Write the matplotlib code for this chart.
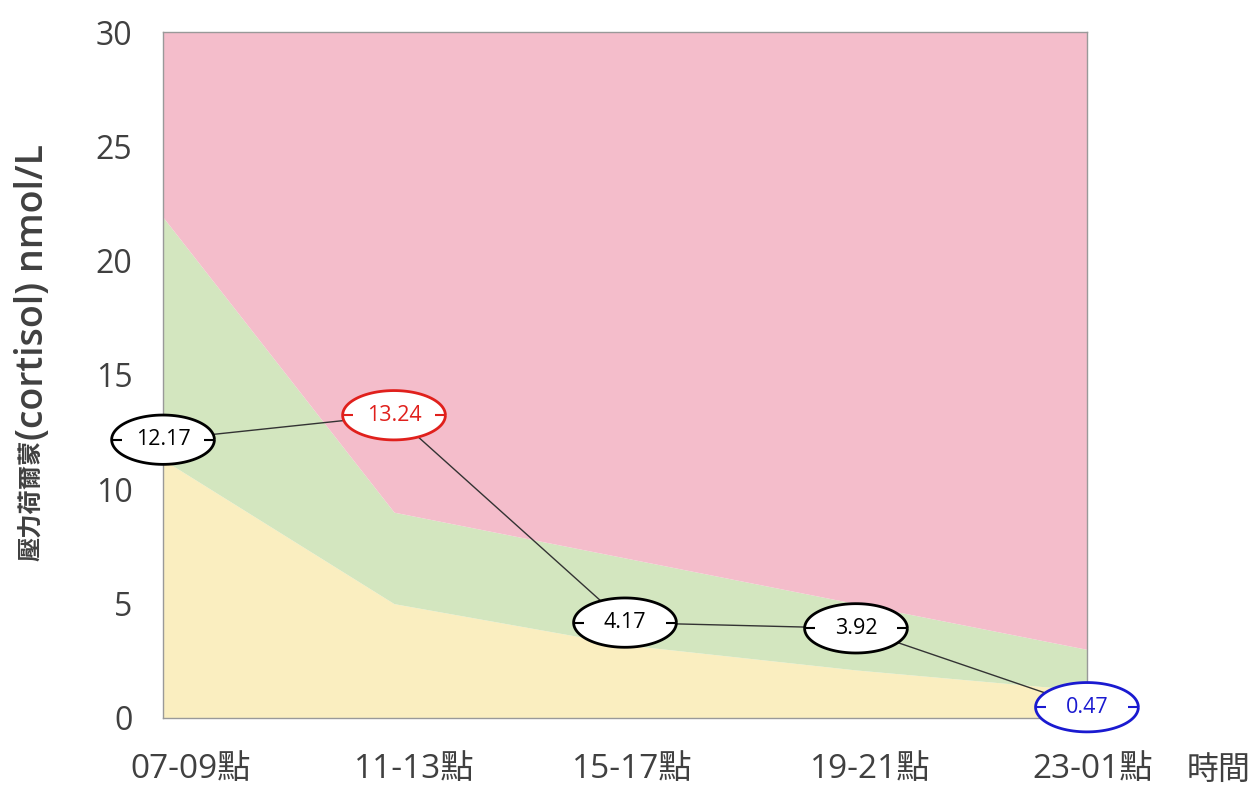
import matplotlib
matplotlib.use("Agg")
import matplotlib.pyplot as plt
import matplotlib.transforms as mtransforms
import numpy as np
from matplotlib.path import Path

plt.rcParams['font.family'] = ['Open Sans', 'Noto Sans CJK TC', 'DejaVu Sans']

# データ
categories = ['07-09點', '11-13點', '15-17點', '19-21點', '23-01點']
cortisol = [12.17, 13.24, 4.17, 3.92, 0.47]
value_colors = ['black', '#e0201c', 'black', 'black', '#1a1ad0']
# 背景の帯（下限・中間・上限）
band_low = [11.3, 5.0, 3.2, 2.1, 1.2]
band_mid = [21.9, 9.0, 7.0, 5.0, 3.0]
band_top = [30, 30, 30, 30, 30]
yticks = [0, 5, 10, 15, 20, 25, 30]

x = np.arange(len(categories))

fig = plt.figure(figsize=(12.55, 7.85), dpi=100)
ax = fig.add_axes([0.1299, 0.0854, 0.7362, 0.8738])

# 帯
ax.fill_between(x, 0, band_low, color='#faeec0', lw=0)
ax.fill_between(x, band_low, band_mid, color='#d3e6bf', lw=0)
ax.fill_between(x, band_mid, band_top, color='#f4bdcb', lw=0)

# 折れ線
ax.plot(x, cortisol, color='#333333', lw=1, zorder=3, clip_on=False)

# 楕円マーカー
t = np.linspace(0, 2 * np.pi, 100)
ell = Path(np.column_stack([np.cos(t), 0.48 * np.sin(t)]))
ax.scatter(x, cortisol, s=74 ** 2, marker=ell, facecolors='white',
           edgecolors=value_colors, linewidths=2, zorder=4, clip_on=False)
# 楕円の中の小さい横線
dash = Path([(-1, 0), (-0.8, 0), (0.8, 0), (1, 0)],
            [Path.MOVETO, Path.LINETO, Path.MOVETO, Path.LINETO])
ax.scatter(x, cortisol, s=74 ** 2, marker=dash, color=value_colors,
           linewidths=1.5, zorder=5, clip_on=False)
for xi, v, c in zip(x, cortisol, value_colors):
    ax.text(xi, v, f'{v:.2f}', color=c, ha='center', va='center',
            fontsize=15.5, zorder=6)

ax.set_xlim(0, 4)
ax.set_ylim(0, 30)
ax.set_xticks(x)
ax.set_xticklabels(categories, fontsize=24, color='#404040')
ax.set_yticks(yticks)
ax.set_yticklabels([str(v) for v in yticks], fontsize=23, color='#404040')
ax.tick_params(axis='x', length=0, pad=25)
ax.tick_params(axis='y', length=0, pad=22)

# x ラベルを少し右へずらす（元の図の配置に合わせる）
shifts = [28, 20, 7, 14, 6]
for lab, dx in zip(ax.get_xticklabels(), shifts):
    lab.set_transform(lab.get_transform() +
                      mtransforms.ScaledTranslation(dx / 100, 0, fig.dpi_scale_trans))

for s in ax.spines.values():
    s.set_color('#999999')
    s.set_linewidth(1)

# 縦軸ラベル（漢字部分は小さめ）
ax.text(-0.142, 0.405, '壓力荷爾蒙', transform=ax.transAxes, rotation=90,
        ha='center', va='top', fontsize=17.5, fontweight='bold', color='#404040')
ax.text(-0.141, 0.405, '(cortisol) nmol/L', transform=ax.transAxes, rotation=90,
        ha='center', va='bottom', fontsize=27, fontweight='semibold', color='#404040')

ax.annotate('時間', xy=(1.142, -0.076), xycoords='axes fraction',
            ha='center', va='center', fontsize=23, color='#404040')

plt.savefig('out.png', dpi=100)
